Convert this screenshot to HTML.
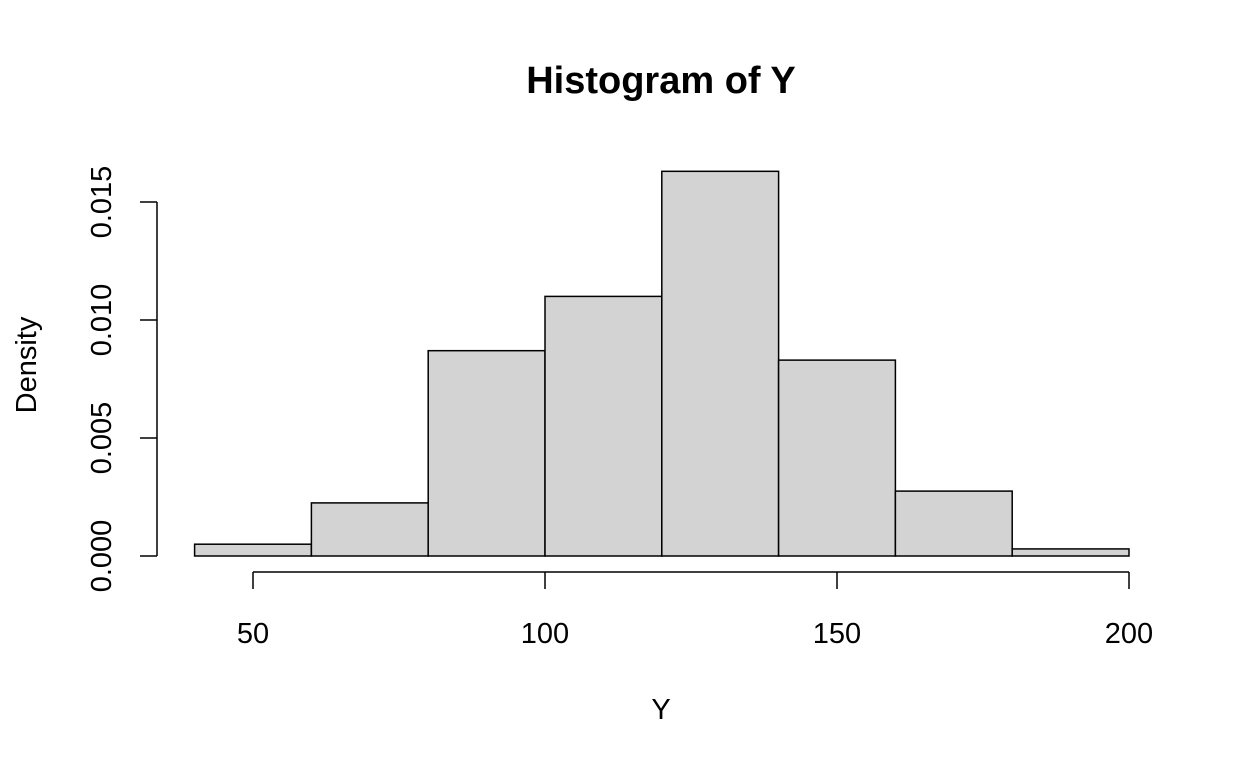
<!DOCTYPE html>
<html><head><meta charset="utf-8"><style>
html,body{margin:0;padding:0;background:#fff;}
svg{display:block;font-family:"Liberation Sans",Arial,sans-serif;}
</style></head><body>
<svg id="chart" width="1248" height="768">
<text x="661" y="93" text-anchor="middle" font-size="38" font-weight="bold">Histogram of Y</text>
<text x="661" y="719" text-anchor="middle" font-size="29">Y</text>
<text transform="translate(36,365) rotate(-90)" text-anchor="middle" font-size="29">Density</text>
<g id="bars"></g>
<g id="xaxis"></g>
<g id="yaxis"></g>
</svg>
<script>
const breaks = [40,60,80,100,120,140,160,180,200];
const densities = [0.0005,0.00225,0.0087,0.011,0.0163,0.0083,0.00275,0.0003];
const xTicks = [50,100,150,200];
const yTicks = [0,0.005,0.010,0.015];
const yTickLabels = ["0.000","0.005","0.010","0.015"];

const NS="http://www.w3.org/2000/svg";
function xs(v){return 253+(v-50)*5.84;}
function ys(v){return 556-v*23600;}
function mk(tag,attrs,parent){const e=document.createElementNS(NS,tag);for(const k in attrs)e.setAttribute(k,attrs[k]);parent.appendChild(e);return e;}

const bars=document.getElementById('bars');
densities.forEach((d,i)=>{
  const r=mk('rect',{x:xs(breaks[i]),y:ys(d),width:xs(breaks[i+1])-xs(breaks[i]),height:ys(0)-ys(d),fill:'#d3d3d3',stroke:'#000','stroke-width':1.5},bars);
  
  
});

const xa=document.getElementById('xaxis');
const xl=mk('line',{x1:xs(xTicks[0]),x2:xs(xTicks[xTicks.length-1]),y1:572,y2:572,stroke:'#000','stroke-width':1.5},xa);


xTicks.forEach(t=>{
  mk('line',{x1:xs(t),x2:xs(t),y1:572,y2:589,stroke:'#000','stroke-width':1.5},xa);
  const tx=mk('text',{x:xs(t),y:643,'text-anchor':'middle','font-size':29},xa);
  tx.textContent=t;
  
  
});

const ya=document.getElementById('yaxis');
const yl=mk('line',{x1:157,x2:157,y1:ys(yTicks[0]),y2:ys(yTicks[yTicks.length-1]),stroke:'#000','stroke-width':1.5},ya);


yTicks.forEach((t,i)=>{
  mk('line',{x1:140,x2:157,y1:ys(t),y2:ys(t),stroke:'#000','stroke-width':1.5},ya);
  const tx=mk('text',{transform:`translate(111,${ys(t)}) rotate(-90)`,'text-anchor':'middle','font-size':29},ya);
  tx.textContent=yTickLabels[i];
  
  
});
</script>
</body></html>
